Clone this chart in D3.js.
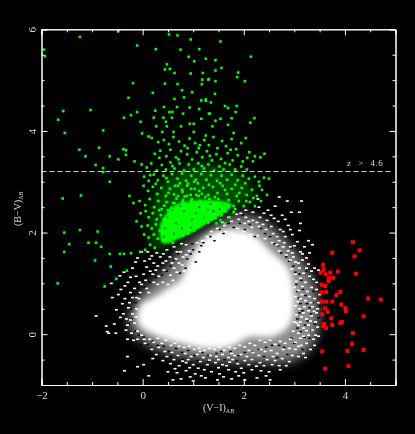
<!DOCTYPE html>
<html lang="en">
<head>
<meta charset="utf-8">
<title>Colour-colour diagram</title>
<script src="https://d3js.org/d3.v7.min.js"></script>
<style>
  html, body { margin: 0; background: #000; }
  svg { display: block; }
  text { fill: #ddd; font-family: "Liberation Serif", serif; opacity: 0.99; }
</style>
</head>
<body>
<script>
// values, (V-I)AB, (B-V)AB
var xMajor = [-2, 0, 2, 4];
var xMinor = [-1.5, -1, -0.5, 0.5, 1, 1.5, 2.5, 3, 3.5, 4.5];
var yMajor = [0, 2, 4, 6];
var yMinor = [-0.5, 0.5, 1, 1.5, 2.5, 3, 3.5, 4.5, 5, 5.5];
var cutX = [-2, 4.96];
var cutY = 3.2;

var redStars = [[4.16,1.81],[4.29,1.65],[3.75,1.60],[4.19,1.53],[3.57,1.36],[3.58,1.27],[3.52,1.21],[3.62,1.18],[3.71,1.21],[3.86,1.23],[4.22,1.19],[3.68,1.10],[3.77,1.11],[3.68,1.04],[3.54,.97],[3.61,.95],[3.54,.82],[3.63,.83],[3.91,.83],[3.83,.77],[4.46,.70],[4.71,.68],[3.54,.64],[3.63,.64],[3.75,.64],[3.93,.58],[3.61,.51],[4.01,.51],[4.02,.45],[3.66,.44],[3.55,.39],[4.37,.35],[3.73,.31],[3.94,.24],[3.91,.22],[3.59,.20],[3.57,.16],[3.75,.18],[3.63,.12],[4.16,.02],[4.14,-.19],[4.37,-.31],[3.55,-.34],[4.05,-.33],[3.61,-.68],[4.07,-.63]];

var greenSparse = [[-1.24,5.85],[-.48,5.96],[-.11,5.68],[.26,5.61],[.52,5.90],[.69,5.88],[.95,5.80],[.75,5.60],[1.12,5.61],[-1.95,5.6],[-1.93,5.47],[.91,5.46],[1.02,5.37],[.48,5.31],[.44,5.21],[.54,5.22],[.63,5.14],[.95,5.13],[1.19,5.14],[1.18,5.01],[1.30,5.01],[-.19,4.94],[.44,4.93],[.69,4.92],[1.17,4.92],[.20,4.75],[.78,4.80],[.98,4.76],[-.28,4.65],[.63,4.63],[.82,4.66],[1.16,4.60],[1.25,4.62],[-1.57,4.39],[-1.03,4.41],[-1.67,4.22],[-.11,4.37],[.25,4.40],[.42,4.47],[.53,4.37],[.59,4.37],[.68,4.47],[.93,4.46],[1.12,4.43],[1.31,4.34],[.80,4.34],[-.37,4.26],[-.23,4.31],[.22,4.26],[.41,4.26],[.58,4.26],[1.16,4.24],[-.04,4.18],[.93,4.14],[1.01,4.14],[.46,4.18],[.27,4.09],[.48,4.09],[.76,4.09],[-1.54,3.96],[-.78,4.01],[-.01,3.95],[.39,3.98],[.61,3.98],[.12,3.89],[1.01,3.98],[1.25,3.91],[-1.25,3.63],[-.86,3.67],[-1.13,3.50],[-.65,3.50],[-.33,3.62],[-.38,3.64],[-.33,3.53],[-.48,3.44],[-.16,3.40],[-.93,3.33],[-.78,3.27],[-.78,3.19],[-.02,3.34],[-1.22,2.73],[-1.58,2.67],[-.65,3.0],[1.54,5.76],[2.14,5.46],[1.44,5.39],[1.25,5.42],[1.44,5.19],[1.56,5.24],[1.89,5.15],[1.87,5.06],[2.02,4.98],[1.31,5.02],[1.44,4.98],[1.43,4.73],[1.25,4.59],[1.35,4.56],[1.63,4.49],[1.69,4.45],[1.86,4.49],[1.84,4.37],[1.33,4.34],[1.76,4.25],[2.21,4.25],[2.13,4.16],[1.54,4.24],[1.44,4.20],[1.38,4.09],[1.69,4.12],[1.80,3.96],[-1.55,2.0],[-1.24,2.05],[-.89,2.02],[-1.45,1.77],[-1.07,1.80],[-.92,1.80],[-.82,1.72],[-.65,1.58],[-.45,1.58],[-.37,1.58],[-.23,1.59],[-.05,1.62],[-1.55,1.62],[-.94,1.45],[-.63,1.33],[-.31,1.25],[-.52,1.09],[-1.68,1.00],[-.75,.94]];

var greenMid = [[.18,3.86],[.31,3.78],[.42,3.82],[.52,3.74],[.61,3.88],[.72,3.79],[.83,3.71],[.93,3.85],[1.04,3.76],[1.11,3.66],[1.22,3.82],[1.31,3.72],[1.40,3.88],[1.48,3.66],[1.57,3.80],[1.65,3.70],[1.76,3.84],[1.85,3.64],[1.95,3.76],[2.04,3.86],[2.11,3.58],[2.22,3.50],[2.33,3.48],[2.41,3.55],[.24,3.55],[.35,3.61],[.47,3.50],[.55,3.63],[.66,3.48],[.76,3.60],[.88,3.54],[.98,3.44],[1.07,3.58],[1.18,3.48],[1.27,3.60],[1.37,3.42],[1.46,3.54],[1.55,3.45],[1.68,3.56],[1.78,3.42],[1.88,3.52],[1.98,3.40],[2.07,3.47],[2.18,3.40],[.08,3.28],[.17,3.36],[.28,3.22],[.38,3.33],[.46,3.24],[.55,3.38],[.63,3.26],[.73,3.36],[.82,3.22],[.91,3.34],[1.01,3.24],[1.10,3.36],[1.21,3.26],[1.30,3.34],[1.41,3.22],[1.52,3.30],[1.60,3.24],[1.72,3.34],[1.83,3.24],[1.95,3.30],[2.06,3.24],[.03,3.10],[.12,3.02],[.22,3.14],[.30,3.03],[.41,3.12],[.50,3.00],[.58,3.15],[.69,3.06],[.78,3.16],[.86,3.02],[.96,3.12],[1.05,3.04],[1.16,3.15],[1.26,3.04],[1.35,3.13],[1.47,3.02],[1.56,3.12],[1.67,3.04],[1.76,3.14],[1.88,3.03],[1.98,3.12],[2.10,3.06],[2.22,3.10],[2.30,3.00],[2.40,3.08],[2.50,3.06],[.02,2.92],[.11,2.82],[.20,2.90],[.29,2.76],[.37,2.88],[.46,2.72],[.54,2.86],[.62,2.75],[.70,2.92],[.79,2.80],[.88,2.92],[.95,2.74],[1.03,2.86],[1.11,2.72],[1.20,2.88],[1.30,2.74],[1.39,2.90],[1.48,2.78],[1.58,2.92],[1.67,2.76],[1.76,2.86],[1.86,2.72],[1.96,2.88],[2.06,2.74],[2.16,2.84],[2.26,2.72],[2.36,2.84],[2.46,2.74],[-.06,2.62],[-.26,2.72],[-.18,2.58],[.05,2.54],[.14,2.66],[.23,2.50],[.31,2.62],[.38,2.46],[.47,2.60],[.55,2.44],[.63,2.58],[.71,2.48],[.80,2.64],[.88,2.50],[.97,2.66],[1.05,2.52],[1.14,2.62],[1.23,2.50],[1.32,2.66],[1.41,2.54],[1.50,2.66],[1.60,2.54],[1.70,2.64],[1.80,2.52],[1.90,2.62],[2.00,2.52],[2.12,2.60],[2.22,2.52],[2.34,2.62],[-.04,2.38],[.06,2.42],[.12,2.30],[.20,2.38],[.28,2.26],[.36,2.34],[.44,2.22],[.52,2.32],[.60,2.20],[.68,2.36],[.76,2.24],[.84,2.38],[.92,2.28],[1.00,2.42],[1.08,2.30],[1.16,2.44],[1.24,2.32],[1.32,2.42],[1.40,2.34],[1.48,2.44],[1.56,2.34],[1.64,2.42],[1.72,2.30],[1.80,2.40],[.10,2.14],[.18,2.08],[.26,2.16],[.34,2.04],[.40,2.14],[.48,2.02],[.56,2.12],[.64,2.04],[1.30,2.20],[1.38,2.26],[1.46,2.18],[1.54,2.24],[1.62,2.18],[.03,1.96],[.12,1.90],[.22,1.96],[.30,1.88],[.40,1.84],[.48,1.90],[.15,1.76],[.24,1.70],[.05,1.66],[.60,1.80],[-.12,2.22],[-.02,2.12],[.72,1.98],[.80,1.94],[.90,1.98],[1.02,2.04],[.95,2.14],[1.12,2.12],[1.22,2.20],
[.33,3.47],[.71,3.44],[1.13,3.72],[1.74,3.63],[.89,3.66],[1.33,3.51],[.59,3.31],[1.17,3.31],[1.63,3.37],[.15,3.13],[.47,3.07],[.74,2.97],[1.09,2.97],[1.31,2.94],[1.53,2.97],[1.83,2.94],[2.03,2.97],[2.31,2.92],[.26,2.96],[.51,2.78],[.83,2.71],[1.17,2.76],[1.43,2.70],[1.63,2.84],[1.91,2.78],[2.19,2.68],[.43,2.53],[.67,2.67],[1.01,2.59],[1.27,2.60],[1.55,2.58],[1.83,2.46],[2.05,2.62],[.33,2.44],[.93,2.52],[1.37,2.49],[.74,2.30],[1.20,2.41],[.57,2.49],[1.64,2.52]];

var greenDense = [[.53,2.08],[.72,2.16],[.90,2.20],[1.08,2.24],[1.26,2.26],[1.44,2.28],[.42,2.26],[.60,2.30],[.78,2.32],[.96,2.36],[1.14,2.38],[1.30,2.36],[.50,2.44],[.68,2.46],[.86,2.48],[1.04,2.50],[1.22,2.48],[.60,2.58],[.78,2.60],[.96,2.62],[1.14,2.60],[.70,2.72],[.88,2.72],[1.06,2.74],[1.24,2.70],[.78,2.84],[.96,2.86],[1.12,2.82],[.64,2.92],[.90,2.96],[1.02,3.00]];

// dark specks inside the solid green
var greenGaps = [[.50,2.30],[.66,2.18],[.82,2.42],[.98,2.26],[1.12,2.50],[1.30,2.44],[.58,2.44],[.74,2.52],[.90,2.60],[1.40,2.42],[1.52,2.46],[.44,2.08],[.62,1.98],[1.06,2.38],[1.22,2.30],[.78,2.08],[.96,2.10],[1.34,2.56],[1.58,2.56],[1.16,2.62],[.52,2.60],[.42,1.92]];

// solid parts of the clouds, traced as outlines
var greenCoreX = [.41, .35, .65, 1.24, 1.77, 1.24, .75];
var greenCoreY = [1.79, 2.15, 2.54, 2.64, 2.54, 2.15, 1.89];
var greenHaloX = [.26, .16, .45, 1.14, 1.93, 2.22, 1.83, 1.14, .65];
var greenHaloY = [1.66, 2.35, 3.05, 3.34, 3.15, 2.76, 2.50, 2.17, 1.85];
var whiteCoreX = [-.10, -.04, .20, .45, .75, .88, 1.04, 1.30, 1.63, 2.12, 2.57, 2.87, 3.00, 2.91, 2.57, 2.12, 1.73, 1.20, .75, .22, -.04];
var whiteCoreY = [.28, .58, .71, .87, 1.07, 1.36, 1.66, 1.95, 2.05, 2.00, 1.60, 1.32, .67, .18, -.05, -.06, -.25, -.28, -.18, -.01, .14];
var whiteMidX = [-.28, -.04, .45, .75, 1.24, 1.93, 2.42, 2.81, 3.20, 3.46, 3.40, 3.01, 2.12, 1.14, .35, -.14];
var whiteMidY = [.24, .77, 1.26, 1.66, 2.01, 2.34, 2.21, 1.85, 1.36, .67, -.11, -.50, -.54, -.50, -.31, -.01];

// dark specks in the white fringe
var whiteGaps = [[1.05,1.42],[.95,1.58],[.85,1.30],[1.12,1.62],[.98,1.78],[1.20,1.80],[1.42,1.84],[1.60,1.98],[1.80,2.10],[2.02,2.06],[2.22,1.92],[2.42,1.98],[2.60,1.78],[2.74,1.60],[2.90,1.44],[3.02,1.22],[3.14,1.06],[3.06,.84],[3.22,.76],[3.12,.60],[3.30,.52],[3.10,.42],[3.26,.26],[3.06,.12],[3.20,-.06],[3.00,-.18],[2.80,-.26],[2.56,-.22],[2.30,-.30],[2.02,-.36],[1.74,-.34],[1.46,-.38],[1.18,-.36],[.90,-.32],[.66,-.28],[.42,-.24],[.20,-.14],[.02,-.06],[-.14,.06],[-.22,.30],[-.14,.62],[.04,.92],[.26,1.12],[.48,1.24],[.62,1.46],[.74,1.20],[3.38,.84],[3.34,.08],[3.16,-.30],[2.66,-.46],[2.16,-.50],[1.62,-.50],[1.08,-.52],[.56,-.44],[-.04,-.20],[-.34,.12],[-.38,.50],[-.20,.98],[.12,1.22],[.34,1.50],[3.48,.32],[3.50,.56],[3.24,1.24],[2.94,1.70],[2.50,2.12],[1.98,2.34],
[3.04,.98],[3.17,.88],[3.09,.71],[3.25,.60],[3.16,.46],[3.33,.40],[3.06,.30],[3.21,.18],[3.13,.05],[3.30,-.08],[2.94,-.08],[2.70,-.22],[2.44,-.26],[2.17,-.35],[1.90,-.42],[1.55,-.34],[1.30,-.42],[1.02,-.42],[.78,-.36],[.52,-.34],[.30,-.22],[.10,-.20],[-.08,-.02],[-.28,.20],[-.24,.50],[-.08,.80],[.14,1.02],[.38,1.16],[.55,1.34],[.70,1.58],[.88,1.48],[1.00,1.66],[1.16,1.74],[1.34,1.92],[1.52,2.06],[1.70,2.18],[1.92,2.18],[2.12,2.16],[2.34,2.08],[2.52,1.92],[2.68,1.74],[2.84,1.52],[2.98,1.34],[3.10,1.18],[3.36,.62],[3.40,.20],[2.86,-.40],[2.40,-.44],[1.86,-.52],[1.30,-.54],[.80,-.50],[.30,-.38]];

var whiteStars = [
// left wing
[-.92,.36],[-.72,.16],[-.70,.05],[-.56,.20],[-.67,.02],[-.53,.02],[-.30,-.10],[-.20,.72],[-.32,.30],[-.40,.60],[-.48,.78],[-.35,.95],[-.24,1.12],[-.45,1.15],[-.20,1.30],[-.14,1.42],[-.62,1.00],[-.60,.72],[-.38,.40],[-.30,.18],[-.22,.02],[-.18,-.12],[-.10,-.10],[-.28,.52],[-.12,.72],[-.16,.90],[-.06,1.02],[.02,1.18],[.08,1.32],[.14,1.48],[-.10,1.50],[-.02,1.62],[.10,1.62],[-.24,.82],[-.05,.82],[.08,.90],[.22,1.02],[.32,1.14],[.42,1.26],[.20,1.18],[.30,1.34],[.46,1.44],[.35,1.52],[.22,1.40],[.55,1.16],[.62,1.30],[.54,1.52],[.66,1.48],[.75,1.62],[.62,1.72],[.48,1.66],[.72,1.40],[.80,1.52],[.30,.98],[.12,.82],[-.12,.50],[-.20,.40],[-.16,.22],[-.10,.06],[-.02,-.02],[.03,-.10],[-.26,.62],[.40,1.02],[.50,.98],[.60,1.06],[.82,1.24],[.92,1.64],[.86,1.76],
[-.44,.33],[-.52,.48],[-.35,.70],[-.43,.88],[-.29,1.02],[-.37,1.22],[-.13,1.14],[-.24,.28],[-.33,.08],[-.13,.34],[-.07,.70],[-.02,.98],[.06,1.06],[.15,1.24],[.26,1.26],[.04,1.44],[.18,1.54],[.28,1.60],[.40,1.40],[.41,1.58],[.58,1.40],[.68,1.22],[.78,1.36],[.86,1.56],[.68,1.62],[.77,1.78],
// underside
[.05,-.18],[.14,-.10],[.22,-.16],[.30,-.08],[.38,-.18],[.46,-.12],[.56,-.22],[.64,-.18],[.72,-.24],[.82,-.26],[.92,-.24],[1.02,-.30],[1.12,-.28],[1.22,-.32],[1.32,-.28],[1.42,-.30],[1.52,-.25],[1.62,-.32],[1.72,-.26],[1.82,-.28],[1.92,-.22],[2.02,-.25],[2.12,-.18],[2.22,-.22],[2.32,-.12],[2.42,-.16],[2.52,-.12],[2.62,-.20],[2.72,-.14],[2.82,-.18],[2.92,-.10],[3.02,-.16],[3.12,-.08],[.18,-.30],[.32,-.26],[.44,-.34],[.58,-.36],[.70,-.42],[.84,-.38],[.96,-.44],[1.08,-.40],[1.20,-.46],[1.34,-.42],[1.46,-.44],[1.58,-.40],[1.70,-.46],[1.82,-.42],[1.94,-.40],[2.06,-.44],[2.18,-.36],[2.30,-.42],[2.42,-.34],[2.54,-.32],[2.66,-.38],[2.78,-.30],[2.90,-.28],[3.02,-.30],[3.14,-.22],[.40,-.52],[.55,-.58],[.72,-.62],[.86,-.56],[1.00,-.60],[1.14,-.54],[1.28,-.60],[1.44,-.56],[1.58,-.60],[1.72,-.55],[1.88,-.58],[2.02,-.52],[2.16,-.50],[2.32,-.56],[2.46,-.50],[2.62,-.52],[2.76,-.48],[2.90,-.54],[.50,-.74],[.68,-.76],[.86,-.72],[1.04,-.78],[1.22,-.70],[1.36,-.74],[1.52,-.78],[1.70,-.70],[1.84,-.74],[2.00,-.76],[2.16,-.70],[2.34,-.72],[2.50,-.74],[.02,-.60],[.20,-.48],[-.10,-.64],[-.30,-.44],[-.36,-.72],[.12,-.82],[.60,-.90],[.76,-.88],[1.00,-.92],[1.24,-.86],[1.48,-.90],[1.76,-.88],[2.02,-.90],[2.26,-.86],[2.52,-.90],[2.84,-.62],
[.27,-.40],[.62,-.50],[.79,-.53],[.93,-.66],[1.10,-.67],[1.32,-.51],[1.50,-.66],[1.66,-.62],[1.78,-.50],[1.95,-.67],[2.10,-.60],[2.25,-.63],[2.40,-.62],[2.56,-.60],[2.70,-.62],[2.96,-.42],[3.08,-.44],[2.58,-.44],[2.34,-.30],[2.10,-.32],[1.76,-.38],[1.50,-.50],[1.14,-.34],[.90,-.50],[.48,-.44],[.64,-.68],[.94,-.84],[1.16,-.82],[1.60,-.84],[1.90,-.82],[2.44,-.82],[2.72,-.70],
// right edge
[2.95,1.28],[3.02,1.18],[3.10,1.30],[3.18,1.20],[3.04,1.04],[3.12,1.10],[3.22,1.02],[3.30,1.14],[3.38,1.08],[3.00,.92],[3.08,.86],[3.16,.94],[3.26,.84],[3.34,.92],[3.44,.88],[3.02,.74],[3.12,.70],[3.22,.66],[3.30,.74],[3.40,.70],[3.48,.62],[3.02,.56],[3.10,.50],[3.20,.54],[3.28,.46],[3.36,.54],[3.44,.42],[3.04,.38],[3.14,.34],[3.24,.30],[3.34,.36],[3.42,.24],[3.00,.24],[3.08,.18],[3.18,.12],[3.28,.18],[3.36,.08],[3.46,.14],[2.98,.06],[3.08,.02],[3.18,-.04],[3.28,-.02],[3.38,-.10],[3.48,-.04],[3.32,-.30],[3.18,-.38],[3.40,1.30],[3.28,1.38],[3.48,1.26],[3.16,1.46],[3.02,1.42],[2.92,1.46],[3.30,1.60],[3.12,1.62],[2.84,1.56],[2.96,1.60],[3.36,1.76],[3.20,1.72],[3.06,1.82],[2.92,1.72],[2.78,1.72],[2.70,1.64],
[3.08,1.40],[3.24,1.30],[3.34,1.24],[3.44,1.02],[3.50,.78],[3.46,.50],[3.39,.45],[3.15,.78],[3.07,.64],[3.33,.62],[3.18,.42],[3.05,.22],[3.32,.26],[3.12,.24],[3.24,.07],[3.42,-.02],[3.24,-.18],[3.08,-.24],[3.40,-.22],[3.22,-.46],[2.98,1.52],[3.16,1.58],[3.24,1.50],[2.88,1.64],[3.00,1.74],[3.28,1.84],
// upper edge
[2.00,2.02],[2.14,1.96],[2.28,1.94],[2.42,1.88],[2.56,1.80],[2.70,1.84],[2.82,1.92],[2.96,1.96],[3.10,2.04],[2.88,2.14],[2.72,2.06],[2.58,1.98],[2.44,2.06],[2.30,2.12],[2.16,2.10],[2.02,2.18],[1.88,2.08],[1.76,1.98],[1.64,2.02],[1.50,1.96],[1.40,1.92],[1.28,1.92],[1.18,1.84],[1.08,1.80],[1.62,2.14],[1.76,2.22],[1.90,2.26],[2.04,2.30],[2.18,2.24],[2.32,2.30],[2.46,2.24],[2.60,2.28],[2.76,2.34],[2.94,2.40],[2.48,2.44],[2.30,2.50],[2.62,2.52],[3.10,2.40],[3.12,2.18],[1.86,2.36],[2.04,2.44],[2.18,2.40],[2.70,2.70],[2.28,2.66],[3.14,2.62],[2.86,2.62],
[1.48,2.08],[1.36,2.02],[1.58,2.20],[1.70,2.30],[1.94,2.38],[2.10,2.22],[2.26,2.20],[2.38,2.16],[2.54,2.12],[2.66,1.92],[2.78,2.02],[2.92,2.06],[2.54,2.34],[2.40,2.38],[2.68,2.22],[2.82,2.26],[2.80,1.80],[2.66,1.76]
];

var svg = d3.select("body").append("svg").attr("width", 415).attr("height", 434);
svg.append("rect").attr("width", 415).attr("height", 434).attr("fill", "#000");

var defs = svg.append("defs");
[["soft1", 1.2], ["soft3", 3], ["soft6", 6]].forEach(function(f) {
  defs.append("filter").attr("id", f[0]).attr("x", "-30%").attr("y", "-30%").attr("width", "160%").attr("height", "160%")
    .append("feGaussianBlur").attr("stdDeviation", f[1]);
});

var xScale = d3.scaleLinear().domain([-2, 5]).range([41.5, 395.5]);
var yScale = d3.scaleLinear().domain([-1, 6]).range([385, 29.3]);

var outline = function(xs, ys) {
  return d3.line().x(function(d) { return xScale(d); })
               .y(function(d, i) { return yScale(ys[i]); })
               .curve(d3.curveCatmullRomClosed)(xs);
};
var squares = function(name, data, w, h, fill) {
  svg.selectAll("." + name).data(data).enter().append("rect").attr("class", name)
    .attr("x", function(d) { return xScale(d[0]) - w / 2; })
    .attr("y", function(d) { return yScale(d[1]) - h / 2; })
    .attr("width", w).attr("height", h).attr("fill", fill);
};

// white cloud: soft density falloff, then core and single marks
svg.append("path").attr("d", outline(whiteMidX, whiteMidY)).attr("fill", "#fff").attr("opacity", 0.55).attr("filter", "url(#soft6)");
svg.append("path").attr("d", outline(whiteCoreX, whiteCoreY)).attr("fill", "#fff").attr("filter", "url(#soft3)");
squares("whitegap", whiteGaps, 2.5, 1.5, "#000");
squares("white", whiteStars, 3, 1.6, "#fff");

// green cloud
svg.append("path").attr("d", outline(greenHaloX, greenHaloY)).attr("fill", "#0f0").attr("opacity", 0.3).attr("filter", "url(#soft6)");
svg.append("path").attr("d", outline(greenCoreX, greenCoreY)).attr("fill", "#0f0").attr("filter", "url(#soft1)");
squares("greengap", greenGaps, 2, 2, "#063");
squares("green", greenSparse.concat(greenMid, greenDense), 2.6, 2.6, "#0f0");

squares("red", redStars, 4, 4, "#f00");

// cut line
svg.append("path")
  .attr("d", d3.line().x(function(d) { return xScale(d); }).y(function() { return yScale(cutY); })(cutX))
  .attr("stroke", "#ddd").attr("stroke-width", 1).attr("stroke-dasharray", "5 3").attr("fill", "none");

svg.append("text").attr("x", 347).attr("y", 166).attr("font-size", 9)
  .style("word-spacing", "4px").style("letter-spacing", "0.5px").text("z > 4.6");

// frame and ticks, major and minor on all four sides
var frame = function(axis, scale, major, minor, tx, ty, labelled) {
  var big = axis(scale).tickValues(major).tickSize(-6).tickPadding(labelled ? 6 : 0)
    .tickFormat(labelled ? d3.format("d") : "");
  var small = axis(scale).tickValues(minor).tickSize(-3).tickFormat("");
  [big, small].forEach(function(a) {
    var g = svg.append("g").attr("transform", "translate(" + tx + "," + ty + ")").call(a);
    g.selectAll("path,line").attr("stroke", "#fff");
    g.selectAll("text").attr("fill", "#ddd").attr("font-size", 11)
      .style("font-family", '"Liberation Serif", serif');
  });
};
frame(d3.axisBottom, xScale, xMajor, xMinor, 0, 385, true);
frame(d3.axisTop, xScale, xMajor, xMinor, 0, 29.3, false);
frame(d3.axisLeft, yScale, yMajor, yMinor, 41.5, 0, true);
frame(d3.axisRight, yScale, yMajor, yMinor, 395.5, 0, false);

// y tick labels stand on their side
svg.selectAll("g").filter(function() { return this.getAttribute("transform") === "translate(41.5,0)"; })
  .selectAll("text")
  .attr("text-anchor", "middle").attr("x", 0).attr("dy", 0)
  .attr("transform", "translate(-6,0) rotate(-90)");

// axis titles
var title = svg.append("text").attr("x", 203).attr("y", 411).attr("font-size", 10);
title.append("tspan").text("(V\u2212I)");
title.append("tspan").attr("font-size", 6).attr("dy", 2).text("AB");

var ytitle = svg.append("text").attr("transform", "translate(21,226) rotate(-90)").attr("font-size", 10);
ytitle.append("tspan").text("(B\u2212V)");
ytitle.append("tspan").attr("font-size", 6).attr("dy", 2).text("AB");
</script>
</body>
</html>
